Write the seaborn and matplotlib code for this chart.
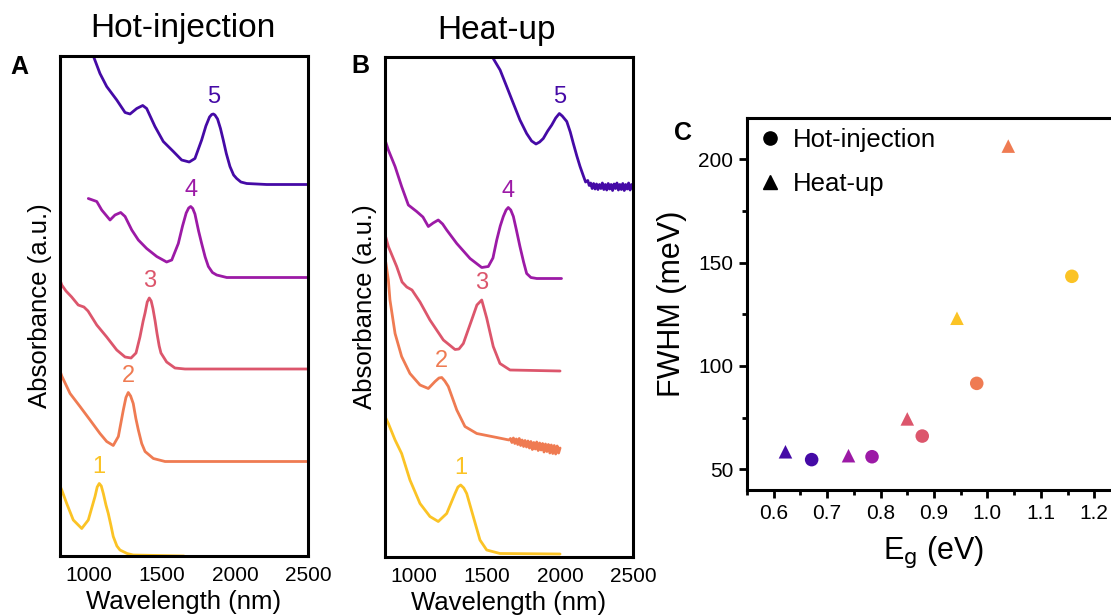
import numpy as np
import pandas as pd
import matplotlib
matplotlib.use("Agg")
import matplotlib.pyplot as plt
import seaborn as sns
from matplotlib.lines import Line2D
from matplotlib.ticker import MultipleLocator

# ---------------- data ----------------
sample_names = ["1", "2", "3", "4", "5"]
sample_colors = ["#fbc325", "#ef7b52", "#dc566c", "#9c1aa6", "#450aa6"]

# Panel A: hot-injection spectra (offset-stacked absorbance, a.u.)
hi_wl_1 = [800, 812, 846, 891, 949, 994, 1040, 1055, 1069, 1083, 1097, 1115, 1131, 1150, 1165, 1190, 1211, 1260, 1302, 1650]
hi_ab_1 = [1.40, 1.32, 1.05, 0.72, 0.55, 0.72, 1.19, 1.38, 1.45, 1.40, 1.25, 1.02, 0.85, 0.60, 0.39, 0.20, 0.12, 0.05, 0.02, 0.00]
hi_wl_2 = [805, 812, 869, 937, 1006, 1074, 1120, 1165, 1200, 1234, 1252, 1268, 1284, 1302, 1320, 1337, 1360, 1383, 1440, 1520, 2500]
hi_ab_2 = [3.66, 3.60, 3.25, 2.99, 2.72, 2.45, 2.29, 2.21, 2.39, 2.92, 3.17, 3.27, 3.20, 3.05, 2.75, 2.52, 2.25, 2.09, 1.95, 1.89, 1.89]
hi_wl_3 = [805, 812, 841, 880, 925, 964, 992, 1052, 1120, 1189, 1246, 1287, 1321, 1348, 1370, 1383, 1398, 1412, 1425, 1437, 1452, 1465, 1480, 1492, 1531, 1588, 1657, 2500]
hi_ab_3 = [5.48, 5.42, 5.30, 5.18, 5.02, 4.98, 4.90, 4.62, 4.38, 4.12, 3.98, 3.96, 4.06, 4.38, 4.70, 4.86, 5.08, 5.16, 5.10, 4.95, 4.70, 4.45, 4.20, 4.06, 3.88, 3.76, 3.74, 3.74]
hi_wl_4 = [994, 1052, 1086, 1143, 1177, 1216, 1246, 1292, 1337, 1394, 1463, 1531, 1566, 1611, 1640, 1665, 1682, 1696, 1710, 1725, 1750, 1771, 1795, 1817, 1845, 1874, 1943, 2500]
hi_ab_4 = [7.15, 7.09, 6.92, 6.72, 6.82, 6.87, 6.79, 6.52, 6.32, 6.15, 5.99, 5.88, 5.92, 6.25, 6.60, 6.86, 6.96, 6.99, 6.95, 6.84, 6.50, 6.25, 5.98, 5.79, 5.67, 5.62, 5.57, 5.57]
hi_wl_5 = [1010, 1035, 1074, 1120, 1189, 1246, 1280, 1326, 1367, 1394, 1451, 1508, 1577, 1634, 1686, 1725, 1771, 1800, 1825, 1840, 1851, 1862, 1880, 1900, 1919, 1940, 1965, 1990, 2011, 2040, 2080, 2217, 2500]
hi_ab_5 = [10.15, 9.95, 9.65, 9.39, 9.12, 8.87, 8.84, 8.95, 9.01, 8.95, 8.59, 8.29, 8.09, 7.92, 7.88, 7.95, 8.32, 8.60, 8.78, 8.83, 8.84, 8.82, 8.74, 8.55, 8.32, 8.05, 7.79, 7.62, 7.55, 7.48, 7.45, 7.43, 7.43]
hi_peak_nm = [1069, 1268, 1412, 1696, 1851]

# Panel B: heat-up spectra (offset-stacked absorbance, a.u.)
hu_wl_1 = [805, 823, 869, 914, 971, 1040, 1108, 1165, 1223, 1280, 1300, 1319, 1340, 1360, 1405, 1451, 1497, 1588, 2000]
hu_ab_1 = [2.78, 2.67, 2.34, 2.07, 1.54, 1.07, 0.81, 0.71, 0.87, 1.27, 1.40, 1.44, 1.38, 1.27, 0.81, 0.34, 0.14, 0.07, 0.06]
hu_wl_2 = [805, 823, 834, 869, 914, 971, 1040, 1097, 1143, 1170, 1189, 1210, 1234, 1292, 1348, 1429, 1566, 1650,
           1660, 1670, 1680, 1690, 1700, 1710, 1720, 1730, 1740, 1750, 1760, 1770, 1780, 1790, 1800, 1810, 1820, 1830,
           1840, 1850, 1860, 1870, 1880, 1890, 1900, 1910, 1920, 1930, 1940, 1950, 1960, 1970, 1980, 1990, 2000]
hu_ab_2 = [5.90, 5.54, 5.14, 4.47, 4.01, 3.67, 3.44, 3.37, 3.51, 3.58, 3.59, 3.52, 3.41, 2.94, 2.61, 2.47, 2.39, 2.34,
           2.37, 2.29, 2.38, 2.27, 2.36, 2.25, 2.37, 2.23, 2.34, 2.21, 2.33, 2.20, 2.32, 2.18, 2.31, 2.15, 2.29, 2.16,
           2.30, 2.13, 2.28, 2.14, 2.27, 2.10, 2.26, 2.11, 2.25, 2.08, 2.24, 2.07, 2.23, 2.06, 2.22, 2.08, 2.18]
hu_wl_3 = [805, 823, 880, 917, 949, 985, 1040, 1108, 1200, 1280, 1307, 1337, 1394, 1430, 1463, 1497, 1542, 1588, 1657, 2000]
hu_ab_3 = [6.40, 6.21, 5.81, 5.50, 5.40, 5.34, 5.10, 4.74, 4.34, 4.15, 4.16, 4.27, 4.74, 5.04, 5.14, 4.78, 4.21, 3.87, 3.74, 3.72]
hu_wl_4 = [805, 823, 869, 914, 960, 1017, 1060, 1097, 1130, 1165, 1195, 1223, 1292, 1383, 1463, 1508, 1540, 1566, 1590, 1611, 1630, 1645, 1662, 1680, 1700, 1725, 1750, 1771, 1800, 1840, 2010]
hu_ab_4 = [8.30, 8.14, 7.81, 7.41, 7.04, 6.91, 6.80, 6.61, 6.68, 6.74, 6.66, 6.54, 6.27, 5.97, 5.79, 5.81, 5.98, 6.34, 6.62, 6.81, 6.94, 6.99, 6.94, 6.81, 6.55, 6.21, 5.90, 5.67, 5.59, 5.57, 5.57]
hu_wl_5 = [1530, 1542, 1589, 1634, 1680, 1725, 1771, 1805, 1835, 1860, 1885, 1915, 1943, 1970, 1995, 2015, 2046, 2070, 2091, 2115, 2137, 2160,
           2175, 2190, 2200, 2210, 2220, 2230, 2240, 2250, 2260, 2270, 2280, 2290, 2300, 2310, 2320, 2330, 2340, 2350, 2360, 2370,
           2380, 2390, 2400, 2410, 2420, 2430, 2440, 2450, 2460, 2470, 2480, 2490, 2500]
hu_ab_5 = [10.20, 9.97, 9.74, 9.41, 9.07, 8.74, 8.47, 8.32, 8.26, 8.30, 8.37, 8.52, 8.64, 8.78, 8.87, 8.82, 8.71, 8.50, 8.27, 8.02, 7.81, 7.62,
           7.50, 7.53, 7.43, 7.48, 7.37, 7.47, 7.36, 7.46, 7.35, 7.45, 7.37, 7.48, 7.35, 7.45, 7.34, 7.47, 7.36, 7.45, 7.33, 7.46,
           7.37, 7.48, 7.34, 7.45, 7.35, 7.47, 7.33, 7.45, 7.36, 7.48, 7.34, 7.45, 7.40]
hu_peak_nm = [1319, 1189, 1463, 1645, 1995]

# Panel C: FWHM vs band gap
eg_hot = [1.158, 0.980, 0.878, 0.784, 0.671]
fwhm_hot = [143.4, 91.6, 66.1, 56.1, 54.7]
eg_heat = [0.943, 1.039, 0.850, 0.740, 0.622]
fwhm_heat = [123.1, 206.4, 74.4, 56.6, 58.5]
method_names = ["Hot-injection", "Heat-up"]

hi_wl = [hi_wl_1, hi_wl_2, hi_wl_3, hi_wl_4, hi_wl_5]
hi_ab = [hi_ab_1, hi_ab_2, hi_ab_3, hi_ab_4, hi_ab_5]
hu_wl = [hu_wl_1, hu_wl_2, hu_wl_3, hu_wl_4, hu_wl_5]
hu_ab = [hu_ab_1, hu_ab_2, hu_ab_3, hu_ab_4, hu_ab_5]

# ---------------- style ----------------
sns.set_theme(style="white")
plt.rcParams['font.family'] = ['Liberation Sans', 'DejaVu Sans']
plt.rcParams.update({
    'axes.edgecolor': 'black', 'text.color': 'black', 'axes.labelcolor': 'black',
    'xtick.color': 'black', 'ytick.color': 'black',
})

fig = plt.figure(figsize=(11.11, 6.16), dpi=100)
W, H = 1111.0, 616.0
axA = fig.add_axes([60 / W, 1 - 556 / H, 248 / W, 500 / H])
axB = fig.add_axes([385 / W, 1 - 557 / H, 248 / W, 500 / H])
axC = fig.add_axes([747 / W, 1 - 490 / H, 374 / W, 372 / H])

def draw_spectra(ax, wls, abs_, peaks):
    for i in range(5):
        sns.lineplot(x=wls[i], y=abs_[i], ax=ax, color=sample_colors[i], lw=2.0,
                     sort=False, estimator=None, legend=False)
        ypk = np.interp(peaks[i], wls[i], abs_[i])
        ax.annotate(sample_names[i], xy=(peaks[i], ypk), xytext=(0, 12),
                    textcoords="offset points", ha="center", va="center",
                    fontsize=17, color=sample_colors[i])
    ax.set_xlim(800, 2500)
    ax.set_ylim(0, 10)
    ax.set_xticks([1000, 1500, 2000, 2500])
    ax.set_yticks([])
    ax.tick_params(axis="x", length=0, pad=7, labelsize=15, colors="black")
    ax.set_xlabel("Wavelength (nm)", fontsize=18.5, labelpad=4, color="black")
    ax.set_ylabel("Absorbance (a.u.)", fontsize=18.5, labelpad=6, color="black")
    for s in ax.spines.values():
        s.set_linewidth(2.2)
        s.set_color("black")

draw_spectra(axA, hi_wl, hi_ab, hi_peak_nm)
draw_spectra(axB, hu_wl, hu_ab, hu_peak_nm)

fig.text(183 / W, 1 - 28 / H, "Hot-injection", ha="center", va="center", fontsize=24, color="black")
fig.text(497 / W, 1 - 30 / H, "Heat-up", ha="center", va="center", fontsize=24, color="black")
fig.text(19 / W, 1 - 67 / H, "A", ha="center", va="center", fontsize=18, fontweight="bold", color="black")
fig.text(360 / W, 1 - 66 / H, "B", ha="center", va="center", fontsize=18, fontweight="bold", color="black")
fig.text(683 / W, 1 - 133 / H, "C", ha="center", va="center", fontsize=18, fontweight="bold", color="black")

# Panel C
df = pd.DataFrame({
    "Eg": eg_hot + eg_heat,
    "FWHM": fwhm_hot + fwhm_heat,
    "sample": sample_names + sample_names,
    "method": [method_names[0]] * 5 + [method_names[1]] * 5,
})
palette = dict(zip(sample_names, sample_colors))
sns.scatterplot(data=df, x="Eg", y="FWHM", hue="sample", style="method",
                markers={"Hot-injection": "o", "Heat-up": "^"}, palette=palette,
                s=95, linewidth=0, ax=axC, legend=False)
axC.set_xlim(0.55, 1.25)
axC.set_ylim(40, 220)
axC.xaxis.set_minor_locator(MultipleLocator(0.05))
axC.yaxis.set_major_locator(MultipleLocator(50))
axC.yaxis.set_minor_locator(MultipleLocator(25))
axC.set_xticks([0.6, 0.7, 0.8, 0.9, 1.0, 1.1, 1.2])
axC.set_xticklabels(["0.6", "0.7", "0.8", "0.9", "1.0", "1.1", "1.2"])
axC.tick_params(which="major", direction="out", length=6, width=2, labelsize=15,
                colors="black", bottom=True, left=True, pad=4)
axC.tick_params(which="minor", direction="out", length=3.5, width=2,
                bottom=True, left=True)
axC.set_xlabel(r"E$_\mathrm{g}$ (eV)", fontsize=22, labelpad=8, color="black")
axC.set_ylabel("FWHM (meV)", fontsize=22, labelpad=8, color="black")
for s in axC.spines.values():
    s.set_linewidth(2.2)
    s.set_color("black")

handles = [Line2D([], [], marker="o", ls="none", color="black", markersize=9.5),
           Line2D([], [], marker="^", ls="none", color="black", markersize=10)]
axC.legend(handles, method_names, loc="upper left", bbox_to_anchor=(0.027, 0.972),
           frameon=False, fontsize=18.5, handlelength=1.0, handletextpad=0.4,
           labelspacing=0.75, borderaxespad=0, borderpad=0)

fig.savefig("out.png", dpi=100)
